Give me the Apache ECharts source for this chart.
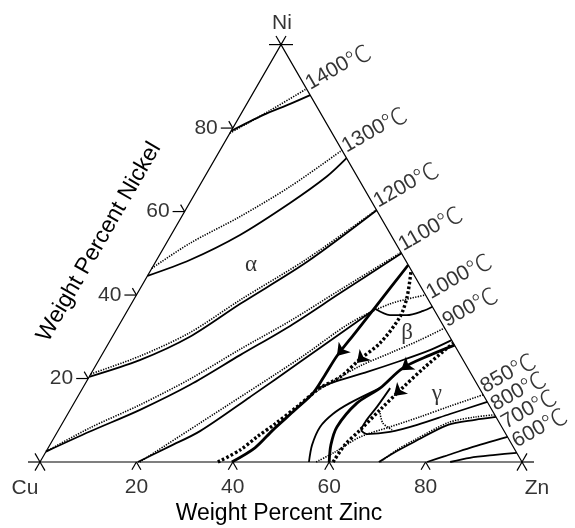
<!DOCTYPE html>
<html><head><meta charset="utf-8">
<script src="https://cdn.jsdelivr.net/npm/echarts/dist/echarts.min.js"></script>
<style>html,body{margin:0;padding:0;background:#fff}#c{width:575px;height:528px}</style>
</head><body><div id="c"></div><script>
// ---- data: ternary compositions [wt% Zn, wt% Ni] (Cu = balance) ----
const niTicks = [20, 40, 60, 80];
const znTicks = [20, 40, 60, 80];
const liq1400 = [[0,79.3],[4.7,83.1],[9.0,85.8],[12.1,87.9]];
const sol1400 = [[0,78.8],[5.5,84.1],[10.6,89.4]];
const liq1300 = [[0,44.6],[6.9,48.4],[14.3,54.4],[20.8,62.0],[25.3,68.4],[27.2,72.8]];
const sol1300 = [[0,46.4],[4.9,52.4],[12.1,58.8],[18.9,66.0],[25.3,74.7]];
const liq1200 = [[0,20.4],[8.5,24.4],[16.1,30.0],[22.6,37.9],[31.4,47.9],[39.7,60.3]];
const sol1200 = [[0,21.1],[8.1,25.4],[15.6,31.0],[22.1,38.8],[31.0,48.6],[39.6,60.4]];
const liq1100 = [[0,2.5],[6.7,7.3],[14.5,12.5],[21.9,18.5],[28.7,25.6],[35.6,32.6],[42.0,40.4],[50.0,50.0]];
const sol1100 = [[0,2.5],[6.3,8.2],[13.9,13.7],[21.2,19.9],[28.0,27.0],[35.0,33.8],[41.6,41.2],[49.8,50.2]];
const liq1000 = [[20.3,0],[25.1,3.8],[29.5,7.4],[35.8,15.6],[42.0,24.0],[46.9,30.7],[51.2,36.7]];
const betaLiq1000 = [[51.2,36.7],[55.0,35.2],[58.5,35.2],[61.4,36.2],[62.8,37.2]];
const sol1000 = [[20.7,0],[28.5,9.3],[41.5,24.9],[47.7,33.3],[53.7,37.9],[60.0,40.0]];
const liq900 = [[48.8,17.7],[52.4,19.6],[57.1,21.6],[62.6,24.2],[67.5,26.8],[70.8,29.2]];
const sol900 = [[49.1,17.2],[51.4,19.6],[54.9,23.0],[59.6,26.1],[64.2,29.2],[67.9,32.1]];
const valleyAB = [[39.8,0],[42.9,3.4],[44.5,7.7],[46.7,12.5],[48.4,16.5],[48.7,20.8],[48.9,25.4],[49.9,30.9],[51.1,37.6],[52.8,47.2]];
const valleyABsol = [[36.9,0],[40.1,2.9],[42.0,6.0],[44.2,9.1],[46.8,13.4],[49.2,17.7],[52.1,20.4],[54.1,24.7],[56.3,28.5],[57.3,34.7],[56.4,39.5],[54.2,45.5]];
const valleyBG = [[72.0,28.0],[68.1,25.6],[64.0,22.5],[61.7,17.7],[58.7,14.1],[57.4,8.4],[58.3,4.1],[60.0,0]];
const branchBG = [[61.7,17.7],[57.2,14.1],[55.0,11.5],[53.9,8.4],[54.4,4.1],[55.8,0]];
const valleyBGsol = [[60.8,0],[61.2,4.1],[62.6,7.7],[64.3,12.5],[66.1,17.2],[68.5,22.8],[71.5,28.5]];
const liq850 = [[63.8,17.7],[63.3,13.2],[62.7,9.8],[62.8,7.7],[64.5,6.7],[69.0,7.2],[73.8,8.9],[79.3,11.5],[85.6,14.4]];
const sol850 = [[57.3,0],[60.0,2.4],[63.4,6.0],[68.4,8.4],[73.4,10.8],[78.4,13.4],[83.9,16.1]];
const sol850arc = [[64.7,11.7],[66.5,9.3],[69.2,7.7]];
const liq800 = [[70.3,0],[72.5,2.4],[75.2,4.8],[80.2,8.9],[85.2,10.1],[89.2,10.8]];
const sol800 = [[70.6,0],[72.6,2.9],[75.2,5.4],[80.1,9.5],[85.0,10.8],[88.7,11.3]];
const liq700 = [[80.3,0],[83.3,1.4],[87.5,3.4],[94.0,6.0]];
const liq600 = [[85.1,0],[88.7,1.0],[93.6,1.7],[97.8,2.2]];
const arrows = [
  [[49.2,26.6],[48.9,25.4]],
  [[54.5,25.4],[53.9,23.7]],
  [[64.7,23.2],[63.9,22.0]],
  [[66.1,17.2],[65.5,15.8]]
];
const tempValues = [1400, 1300, 1200, 1100, 1000, 900, 850, 800, 700, 600];
const tempLabelNi = [90.3, 75.3, 62.1, 51.7, 40.2, 33.5, 17.7, 13.4, 9.1, 4.6];
const phaseNames = ['α','β','γ'];
const phasePos = [[20.2,47.2],[60.7,30.9],[74.2,16.3]];
const cornerNames = ['Cu','Zn','Ni'];
const cornerPos = [[0,0],[100,0],[0,100]];

// ---- ternary -> cartesian ----
const S3 = Math.sqrt(3) / 2;
const tp = p => [p[0] + p[1] / 2, p[1] * S3];

const FONT = "'Liberation Sans', Arial, Helvetica, sans-serif";
const CJK = "'Noto Sans CJK JP', 'Noto Sans CJK SC', sans-serif";

const styles = {
  frame: {color:'#000', width:1.2},
  liq: {color:'#000', width:1.8},
  sol: {color:'#000', width:1.6, type:[1.3,1.3]},
  thick: {color:'#000', width:2.8},
  thickDot: {color:'#000', width:3.4, type:[2.6,2.2]}
};
function curve(data, kind, smooth) {
  return {type:'line', data:data.map(tp), smooth: smooth == null ? 0.3 : smooth,
    symbol:'none', clip:false, silent:true, lineStyle:styles[kind], z:2};
}

// tick-mark directions (screen units) by kind
const tickKinds = [
  [[-1,0,12],[-0.5,-0.866,8]],
  [[-0.5,0.866,9],[0.5,0.866,9]],
  [[-1,0,12],[-0.5,0.866,10],[-0.5,-0.866,10],[0.5,0.866,10]],
  [[1,0,12],[0.5,0.866,10],[0.5,-0.866,10],[-0.5,0.866,10]],
  [[-1,0,12],[1,0,12],[0.5,-0.866,10],[-0.5,-0.866,10]]
];
const tickData = []
  .concat(niTicks.map(v => tp([0, v]).concat([0])))
  .concat(znTicks.map(v => tp([v, 0]).concat([1])))
  .concat(cornerPos.map((c, i) => tp(c).concat([2 + i])));

const chart = echarts.init(document.getElementById('c'), null, {renderer:'canvas'});
const series = [
  curve([[0,0],[100,0],[0,100],[0,0]], 'frame', false),
  {type:'custom', coordinateSystem:'cartesian2d', data:tickData, clip:false, silent:true, encode:{x:0,y:1},
    renderItem:(params, api) => {
      const p = api.coord([api.value(0), api.value(1)]);
      const dirs = tickKinds[api.value(2)];
      return {type:'group', children: dirs.map(d => ({type:'line',
        shape:{x1:p[0], y1:p[1], x2:p[0] + d[0]*d[2], y2:p[1] + d[1]*d[2]},
        style:{stroke:'#000', lineWidth:1.2}}))};
    }},
  curve(sol1400,'sol'), curve(liq1400,'liq'),
  curve(sol1300,'sol'), curve(liq1300,'liq'),
  curve(sol1200,'sol'), curve(liq1200,'liq'),
  curve(sol1100,'sol'), curve(liq1100,'liq'),
  curve(sol1000,'sol'), curve(liq1000,'liq'), curve(betaLiq1000,'liq'),
  curve(sol900,'sol'), curve(liq900,'liq'),
  curve(sol850,'sol'), curve(sol850arc,'sol'), curve(liq850,'liq'),
  curve(sol800,'sol'), curve(liq800,'liq'),
  curve(liq700,'liq'), curve(liq600,'liq'),
  curve(branchBG,'liq'),
  curve(valleyABsol,'thickDot'), curve(valleyAB,'thick'),
  curve(valleyBGsol,'thickDot'), curve(valleyBG,'thick'),
  {type:'lines', coordinateSystem:'cartesian2d', silent:true, z:5,
    symbol:['none','arrow'], symbolSize:12,
    lineStyle:{color:'#000', width:0, opacity:1},
    data: arrows.map(a => ({coords:[tp(a[0]), tp(a[1])]}))},
  {type:'scatter', symbol:'circle', symbolSize:0, silent:true, clip:false, z:6,
    data: tempLabelNi.map((n, i) => ({value: tp([100 - n, n]), name: String(tempValues[i])})),
    label:{show:true, position:'right', distance:3, rotate:30, formatter:'{d|{b}}{c|℃}',
      rich:{d:{color:'#000', fontSize:21, fontFamily:FONT}, c:{color:'#000', fontSize:24, fontFamily:CJK, fontWeight:300}}}},
  {type:'scatter', symbol:'circle', symbolSize:0, silent:true, clip:false, z:6,
    data: niTicks.map(v => ({value: tp([0, v]), name: String(v)})),
    label:{show:true, position:'left', distance:15, formatter:'{b}', color:'#000', fontSize:21, fontFamily:FONT}},
  {type:'scatter', symbol:'circle', symbolSize:0, silent:true, clip:false, z:6,
    data: znTicks.map(v => ({value: tp([v, 0]), name: String(v)})),
    label:{show:true, position:'bottom', distance:15, formatter:'{b}', color:'#000', fontSize:21, fontFamily:FONT}},
  {type:'scatter', symbol:'circle', symbolSize:0, silent:true, clip:false, z:6,
    data: phasePos.map((p, i) => ({value: tp(p), name: phaseNames[i]})),
    label:{show:true, position:'inside', formatter:'{b}', color:'#000', fontSize:23, fontFamily:"'Liberation Serif', 'Times New Roman', serif"}},
  {type:'scatter', symbol:'circle', symbolSize:0, silent:true, clip:false, z:6,
    data: cornerPos.map((p, i) => ({value: tp(p), name: cornerNames[i],
      label:{offset: [[-15,26],[15,26],[1,-21]][i]}})),
    label:{show:true, position:'inside', formatter:'{b}', color:'#000', fontSize:21, fontFamily:FONT}}
];

chart.setOption({
  animation:false,
  backgroundColor:'#fff',
  grid:{left:40, top:44.6, width:482, height:417.4, containLabel:false},
  xAxis:{type:'value', min:0, max:100, show:false},
  yAxis:{type:'value', min:0, max:100*S3, show:false},
  graphic:[
    {type:'text', x:279, y:514, style:{text:'Weight Percent Zinc', font:'23px ' + FONT, fill:'#000', textAlign:'center', textVerticalAlign:'middle'}},
    {type:'text', x:99, y:242, rotation:Math.PI/3, style:{text:'Weight Percent Nickel', font:'23px ' + FONT, fill:'#000', textAlign:'center', textVerticalAlign:'middle'}}
  ],
  series: series
});
</script></body></html>
